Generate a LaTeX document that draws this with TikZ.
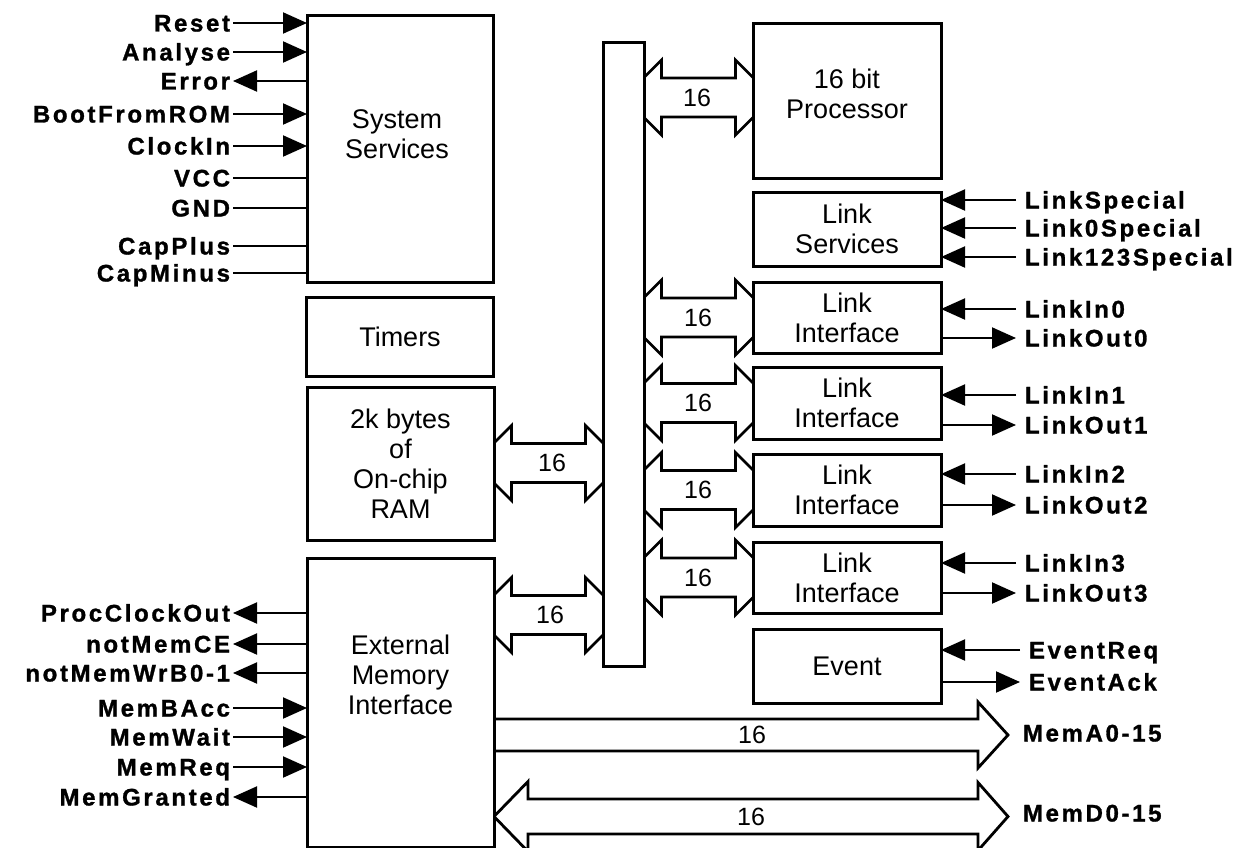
\documentclass[tikz,border=0pt]{standalone}
\usepackage{fontspec}
\setmainfont{Liberation Sans}
\newfontfamily\pinfont[LetterSpace=11,BoldFeatures={FakeBold=1.2}]{Liberation Sans}
\usetikzlibrary{arrows.meta,calc,backgrounds}

\begin{document}
\begin{tikzpicture}[x=1pt,y=-1pt,>={Triangle[length=24pt,width=21pt]},
  blk/.style={draw,line width=3pt,fill=white,inner sep=0pt,outer sep=0pt,
    align=center,font=\fontsize{27}{30}\selectfont},
  txt/.style={align=center,inner sep=0pt,font=\fontsize{27}{30}\selectfont},
  pinl/.style={anchor=east,inner sep=0pt,outer sep=3pt,text height=17pt,text depth=0pt,
    font=\pinfont\bfseries\fontsize{24}{26}\selectfont},
  pinr/.style={pinl,anchor=west,outer sep=9pt},
  num/.style={inner sep=0pt,font=\fontsize{25}{27}\selectfont},
  wire/.style={line width=2pt},
  sigin/.style={wire,->},
  sigout/.style={wire,<-},
  signone/.style={wire},
  fatbus/.style={line width=2.8pt,fill=white,to path={
    let \p1=(\tikztostart), \p2=(\tikztotarget) in
    (\x1-20pt,\y1) -- (\x1+17.5pt,\y1+37.5pt) -- (\x1+17.5pt,\y1+19.5pt)
    -- (\x2-17.5pt,\y1+19.5pt) -- (\x2-17.5pt,\y1+37.5pt) -- (\x2+20pt,\y1)
    -- (\x2-17.5pt,\y1-37.5pt) -- (\x2-17.5pt,\y1-19.5pt) -- (\x1+17.5pt,\y1-19.5pt)
    -- (\x1+17.5pt,\y1-37.5pt) -- cycle}}]
\useasboundingbox (0,0) rectangle (1245,848);
% 左列模块
\node[blk,minimum width=186,minimum height=266,
  label={[txt,name=sysT,xshift=-3,yshift=15]center:System\\Services}] (sys) at (400,149) {};
\node[blk,minimum width=187,minimum height=79] (tim) at (400,336.5) {Timers};
\node[blk,minimum width=187,minimum height=153] (ram) at (400.5,463.5) {2k bytes\\of\\On-chip\\RAM};
\node[blk,minimum width=187,minimum height=289,
  label={[txt,name=extT,yshift=28]center:External\\Memory\\Interface}] (ext) at (400.5,702.5) {};
% 内部总线
\node[blk,minimum width=41,minimum height=623] (bus) at (623.5,354.5) {};
% 右列模块
\node[blk,minimum width=188,minimum height=154,
  label={[txt,name=procT,yshift=7]center:16 bit\\Processor}] (proc) at (847,101) {};
\node[blk,minimum width=188,minimum height=74] (lsv) at (847,229) {Link\\Services};
\foreach \i/\y/\h in {0/317.5/71,1/403/72,2/490/72,3/577.5/71}
  \node[blk,minimum width=188,minimum height=\h] (li\i) at (847,\y) {Link\\Interface};
\node[blk,minimum width=188,minimum height=74] (evt) at (847,666) {Event};
% 16 位宽总线箭头（放在模块后面）
\coordinate (memA) at (1008,735);
\coordinate (memD) at (1008,816.5);
\begin{scope}[on background layer]
\draw[fatbus] (bus.east |- 0,97.5) to (proc.west |- 0,97.5);
\draw[fatbus] (ram.east |- 0,463) to (bus.west |- 0,463);
\draw[fatbus] (ext.east |- 0,615) to (bus.west |- 0,615);
\foreach \i in {0,...,3}
  \draw[fatbus] (bus.east |- li\i) to (li\i.west);
\draw[line width=2.8pt,fill=white] let \p1=(ext.east |- memA), \p2=(memA) in
  (\x1-20pt,\y1+16pt) -- (\x2-30pt,\y1+16pt) -- (\x2-30pt,\y1+33pt) -- (\x2,\y1)
  -- (\x2-30pt,\y1-33pt) -- (\x2-30pt,\y1-16pt) -- (\x1-20pt,\y1-16pt) -- cycle;
\draw[line width=2.8pt,fill=white] let \p1=(ext.east |- memD), \p2=(memD) in
  (\x1,\y1) -- (\x1+34pt,\y1+35pt) -- (\x1+34pt,\y1+17.5pt) -- (\x2-30pt,\y1+17.5pt)
  -- (\x2-30pt,\y1+34pt) -- (\x2,\y1) -- (\x2-30pt,\y1-34pt) -- (\x2-30pt,\y1-17.5pt)
  -- (\x1+34pt,\y1-17.5pt) -- (\x1+34pt,\y1-35pt) -- cycle;
\end{scope}
% 总线宽度标注
\node[num] (n16p) at (697,97.5) {16};
\node[num] (n16r) at (552,463) {16};
\node[num] (n16e) at (550,615) {16};
\foreach \i in {0,...,3}
  \node[num] (n16l\i) at (698,{317.5+(\i==1)*85.5+(\i==2)*172.5+(\i==3)*260}) {16};
\node[num] (n16a) at (752,735) {16};
\node[num] (n16d) at (751,817) {16};
% 系统服务引脚
\foreach \txt/\y/\t [count=\k] in {Reset/23/in,Analyse/52/in,Error/81/out,
    BootFromROM/114/in,ClockIn/146/in,VCC/178/none,GND/208/none,
    CapPlus/246/none,CapMinus/273/none} {
  \node[pinl] (ps\k) at (233,\y) {\txt};
  \draw[sig\t] (ps\k) -- (ps\k -| sys.west);
}
% 外部存储器接口引脚
\foreach \txt/\y/\t [count=\k] in {ProcClockOut/613/out,notMemCE/644/out,
    notMemWrB0-1/673/out,MemBAcc/708/in,MemWait/737/in,MemReq/767/in,
    MemGranted/797/out} {
  \node[pinl] (pm\k) at (233,\y) {\txt};
  \draw[sig\t] (pm\k) -- (pm\k -| ext.west);
}
% 链路服务引脚
\foreach \txt/\y [count=\k] in {LinkSpecial/200,Link0Special/228,Link123Special/257} {
  \node[pinr] (pl\k) at (1016,\y) {\txt};
  \draw[sigin] (pl\k) -- (pl\k -| lsv.east);
}
% 链路接口引脚
\foreach \i/\a/\b in {0/309/338,1/395/425,2/474/505,3/563/593} {
  \node[pinr] (pIn\i) at (1016,\a) {LinkIn\i};
  \node[pinr] (pOut\i) at (1016,\b) {LinkOut\i};
  \draw[sigin] (pIn\i) -- (pIn\i -| li\i.east);
  \draw[sigout] (pOut\i) -- (pOut\i -| li\i.east);
}
% 事件引脚
\node[pinr] (pEReq) at (1020,650) {EventReq};
\node[pinr] (pEAck) at (1020,682) {EventAck};
\draw[sigin] (pEReq) -- (pEReq -| evt.east);
\draw[sigout] (pEAck) -- (pEAck -| evt.east);
% 外部总线标注
\node[pinr] (pMemA) at (1014,733) {MemA0-15};
\node[pinr] (pMemD) at (1014,813) {MemD0-15};
\end{tikzpicture}
\end{document}
